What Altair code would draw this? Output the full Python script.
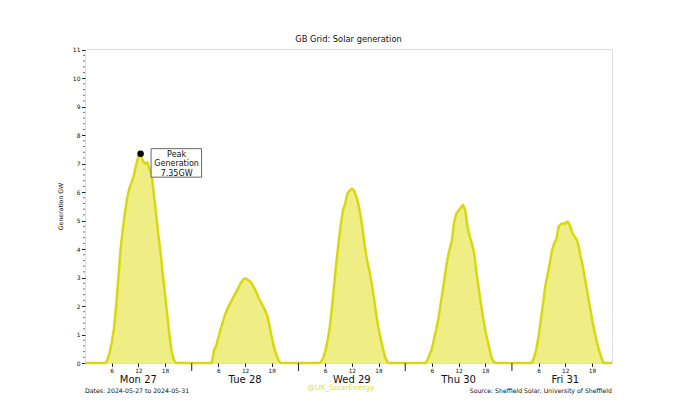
import altair as alt
import pandas as pd

# Half-hourly solar generation (GW) from 04:00 to 20:30 each day; night values are 0
DAY_HOURS = [4.0 + 0.5 * i for i in range(34)]
mon = [0, 0, 0.1, 0.35, 0.7, 1.2, 2.0, 3.0, 4.0, 4.7, 5.3, 5.8, 6.15, 6.35, 6.6, 6.95, 7.25, 7.35,
       7.1, 7.0, 7.05, 6.8, 6.6, 5.9, 5.2, 4.5, 3.85, 3.1, 2.4, 1.7, 0.95, 0.4, 0.1, 0]
tue = [0, 0, 0.45, 0.6, 0.9, 1.2, 1.45, 1.7, 1.9, 2.05, 2.2, 2.35, 2.5, 2.65, 2.8, 2.92, 2.97, 2.93,
       2.88, 2.8, 2.65, 2.5, 2.3, 2.15, 2.0, 1.85, 1.65, 1.3, 0.9, 0.55, 0.3, 0.1, 0, 0]
wed = [0, 0, 0.02, 0.15, 0.4, 0.75, 1.2, 1.9, 2.7, 3.5, 4.2, 4.85, 5.35, 5.6, 5.95, 6.05, 6.12, 6.05,
       5.85, 5.55, 5.15, 4.6, 4.0, 3.55, 3.2, 2.75, 2.25, 1.7, 1.2, 0.85, 0.5, 0.2, 0.03, 0]
thu = [0, 0, 0.1, 0.3, 0.5, 0.85, 1.2, 1.6, 2.1, 2.6, 3.15, 3.65, 4.0, 4.3, 4.95, 5.25, 5.35, 5.45,
       5.55, 5.35, 4.8, 4.45, 4.2, 3.85, 3.2, 2.65, 2.1, 1.6, 1.15, 0.8, 0.45, 0.15, 0.03, 0]
fri = [0, 0.02, 0.2, 0.5, 0.95, 1.5, 2.1, 2.7, 3.1, 3.5, 3.95, 4.2, 4.35, 4.8, 4.88, 4.9, 4.9, 4.97,
       4.85, 4.6, 4.45, 4.35, 4.1, 3.7, 3.35, 2.9, 2.45, 2.0, 1.55, 1.15, 0.8, 0.5, 0.25, 0.02]
DAYS = [mon, tue, wed, thu, fri]
DAY_LABELS = ["Mon 27", "Tue 28", "Wed 29", "Thu 30", "Fri 31"]
END_HOUR = 118.5  # Fri 31 22:30
HOUR_TICKS = [6, 12, 18]
Y_TICKS = list(range(0, 12))
Y_MAX = 11.025

TITLE = "GB Grid: Solar generation"
Y_TITLE = "Generation GW"
DATES_NOTE = "Dates: 2024-05-27 to 2024-05-31"
SOURCE_NOTE = "Source: Sheffield Solar, University of Sheffield"
HANDLE = "@UK_SolarEnergy"

FILL = "#eeee84"
STROKE = "#d8d812"
FONT = "DejaVu Sans"

rows = []
for d, vals in enumerate(DAYS):
    lookup = dict(zip(DAY_HOURS, vals))
    for i in range(48):
        h = i * 0.5
        t = d * 24 + h
        if t > END_HOUR:
            break
        rows.append({"t": t, "gw": lookup.get(h, 0.0)})
df = pd.DataFrame(rows)

peak_idx = df["gw"].idxmax()
peak_df = pd.DataFrame([{"t": df.loc[peak_idx, "t"], "gw": df.loc[peak_idx, "gw"],
                         "label": f"Peak\nGeneration\n{df.loc[peak_idx, 'gw']:.2f}GW"}])

x_scale = alt.Scale(domain=[0, END_HOUR], nice=False, zero=False)
y_scale = alt.Scale(domain=[0, Y_MAX], nice=False, zero=True)

hour_tick_vals = [d * 24 + h for d in range(5) for h in HOUR_TICKS]
X_AXIS = alt.Axis(
    values=hour_tick_vals, labelExpr="'' + (datum.value % 24)", title=None,
    grid=False, domain=False, tickSize=3.5, tickColor="#222", labelFontSize=5.8,
    labelPadding=0.5, labelColor="#111", labelFont=FONT)
Y_AXIS = alt.Axis(
    values=Y_TICKS, title=Y_TITLE, titleFontSize=6.2, titleFontWeight="normal",
    titleFont=FONT, titleColor="#111", titlePadding=9, grid=False, domain=False,
    tickSize=3.5, tickColor="#222", labelFontSize=6, labelPadding=1.5,
    labelColor="#111", labelFont=FONT)


def X(field):
    return alt.X(field, scale=x_scale, axis=X_AXIS)


def Y(field):
    return alt.Y(field, scale=y_scale, axis=Y_AXIS)


base = alt.Chart(df)
area = base.mark_area(color=FILL, opacity=1).encode(x=X("t:Q"), y=Y("gw:Q"))
line = base.mark_line(color=STROKE, strokeWidth=2.5, strokeJoin="round").encode(
    x=X("t:Q"), y=Y("gw:Q"))

major_df = pd.DataFrame({"t": [24, 48, 72, 96]})
major_ticks = alt.Chart(major_df).mark_rule(color="#222", strokeWidth=1).encode(
    x=X("t:Q"), y=alt.value(314), y2=alt.value(322))

minor_df = pd.DataFrame({"v": [i / 5 for i in range(1, 56) if i % 5 != 0]})
minor_ticks = alt.Chart(minor_df).mark_rule(color="#333", strokeWidth=0.7).encode(
    y=Y("v:Q"), x=alt.value(-2), x2=alt.value(0))

days_df = pd.DataFrame({"c": [d * 24 + 12 for d in range(5)], "lab": DAY_LABELS})
day_text = alt.Chart(days_df).mark_text(fontSize=10, font=FONT, color="#111",
                                        baseline="alphabetic").encode(
    x=X("c:Q"), y=alt.value(333.5), text="lab:N")

dot = alt.Chart(peak_df).mark_circle(size=42, color="black", opacity=1).encode(
    x=X("t:Q"), y=Y("gw:Q"))
box = alt.Chart(peak_df).mark_rect(fill="white", stroke="#555", strokeWidth=0.9,
                                   xOffset=10.5, x2Offset=61, yOffset=-5, y2Offset=23.5).encode(
    x=X("t:Q"), x2="t:Q", y=Y("gw:Q"), y2="gw:Q")
box_text = alt.Chart(peak_df).mark_text(fontSize=8, font=FONT, color="#111", lineBreak="\n",
                                        lineHeight=9.6, baseline="top", align="center",
                                        dx=36, dy=-3).encode(
    x=X("t:Q"), y=Y("gw:Q"), text="label:N")

notes_df = pd.DataFrame({"txt": [DATES_NOTE]})
dates_note = alt.Chart(notes_df).mark_text(fontSize=6.2, font=FONT, color="#111", align="left",
                                           baseline="middle").encode(
    x=alt.value(0), y=alt.value(342), text="txt:N")
src_df = pd.DataFrame({"txt": [SOURCE_NOTE]})
src_note = alt.Chart(src_df).mark_text(fontSize=6.2, font=FONT, color="#111", align="right",
                                       baseline="middle").encode(
    x=alt.value(527), y=alt.value(342), text="txt:N")
handle_df = pd.DataFrame({"txt": [HANDLE]})
handle = alt.Chart(handle_df).mark_text(fontSize=7.5, font=FONT, color="#e2e244", align="center",
                                        baseline="middle").encode(
    x=alt.value(256), y=alt.value(339), text="txt:N")

chart = alt.layer(
    area, line, major_ticks, minor_ticks, day_text, dot, box, box_text,
    dates_note, src_note, handle
).properties(
    width=527, height=314,
    title=alt.TitleParams(TITLE, fontSize=8.3, fontWeight="normal", font=FONT, color="#111",
                          anchor="middle", offset=3),
    autosize=alt.AutoSizeParams(type="none"),
    padding={"left": 77, "top": 41, "right": 52, "bottom": 34},
).configure_view(stroke="#555", strokeWidth=1).configure(background="white")

chart.save("out.html", embed_options={"renderer": "svg", "actions": False})
